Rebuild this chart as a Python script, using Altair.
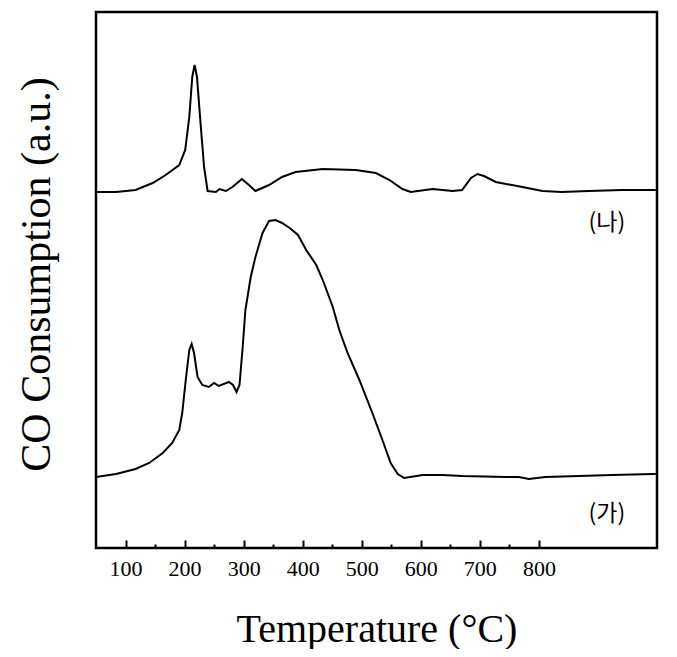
import altair as alt
import pandas as pd

# Upper trace (나)
temp_b = [50, 84, 117, 146, 168, 191, 201, 208, 213, 217, 221, 227, 233, 239, 253, 259, 270, 281,
          297, 309, 320, 343, 365, 388, 434, 490, 524, 547, 569, 583, 620, 654, 670, 685, 696,
          707, 727, 772, 806, 839, 884, 941, 991, 998]
cons_b = [356, 356, 358, 365, 373, 383, 398, 431, 471, 483, 471, 425, 381, 357, 356, 359, 357, 361,
          369, 363, 357, 363, 371, 376, 379, 378, 375, 368, 359, 356, 359, 357, 358, 370, 374,
          372, 366, 361, 357, 356, 357, 358, 358, 358]

# Lower trace (가)
temp_a = [50, 84, 117, 140, 163, 179, 191, 196, 202, 208, 212, 216, 222, 230, 241, 250, 258, 275,
          282, 288, 293, 298, 303, 312, 320, 332, 343, 354, 365, 378, 392, 406, 423, 434, 451,
          462, 476, 496, 518, 535, 549, 561, 572, 603, 637, 670, 744, 766, 783, 811, 868, 924, 994, 998]
cons_a = [71, 74, 79, 85, 95, 105, 118, 135, 168, 198, 204, 195, 171, 163, 161, 165, 162, 166,
          163, 156, 163, 198, 238, 271, 291, 315, 327, 328, 325, 320, 313, 298, 283, 268, 241,
          218, 195, 168, 135, 108, 85, 74, 70, 73, 73, 72, 71, 71, 69, 71, 72, 73, 74, 74]

major_ticks = [100, 200, 300, 400, 500, 600, 700, 800]
minor_ticks = [150, 250, 350, 450, 550, 650, 750]

label_text = ["(나)", "(가)"]
label_temp = [915, 915]
label_value = [325, 34]

df_b = pd.DataFrame({"T": temp_b, "v": cons_b})
df_a = pd.DataFrame({"T": temp_a, "v": cons_a})
df_lab = pd.DataFrame({"T": label_temp, "v": label_value, "t": label_text})

x_scale = alt.Scale(domain=[50, 1000], nice=False, zero=False)
y_scale = alt.Scale(domain=[0, 536], nice=False, zero=False)

serif = "Liberation Serif"

line_b = alt.Chart(df_b).mark_line(color="black", strokeWidth=2).encode(
    x=alt.X("T:Q", scale=x_scale,
            axis=alt.Axis(values=major_ticks, orient="bottom", offset=-8, tickSize=8, tickWidth=2,
                          tickColor="black", domain=False, grid=False, labelFont=serif,
                          labelFontSize=22, labelColor="black", labelPadding=10,
                          title="Temperature (°C)", titleFont=serif, titleFontSize=40,
                          titleFontWeight="normal", titleColor="black", titlePadding=30)),
    y=alt.Y("v:Q", scale=y_scale,
            axis=alt.Axis(title="CO Consumption (a.u.)", ticks=False, labels=False, domain=False,
                          grid=False, titleFont=serif, titleFontSize=42, titleFontWeight="normal",
                          titleColor="black", titlePadding=38, titleY=262)),
)

line_a = alt.Chart(df_a).mark_line(color="black", strokeWidth=2).encode(
    x=alt.X("T:Q", scale=x_scale,
            axis=alt.Axis(values=minor_ticks, orient="bottom", offset=-4, tickSize=4, tickWidth=2,
                          tickColor="black", domain=False, grid=False, labels=False, title=None)),
    y=alt.Y("v:Q", scale=y_scale, axis=None),
)

labels = alt.Chart(df_lab).mark_text(font="Noto Sans CJK KR", fontSize=23, color="black",
                                     align="center", baseline="middle").encode(
    x=alt.X("T:Q", scale=x_scale, axis=None),
    y=alt.Y("v:Q", scale=y_scale, axis=None),
    text="t:N",
)

chart = alt.layer(line_b, line_a, labels).resolve_axis(x="independent", y="independent").properties(
    width=561, height=536,
    autosize=alt.AutoSizeParams(type="none"),
    padding={"left": 88, "top": 4, "right": 12, "bottom": 101},
).configure(background="white").configure_view(stroke="black", strokeWidth=2.5)

chart.save("out.html", embed_options={"renderer": "svg", "actions": False})
